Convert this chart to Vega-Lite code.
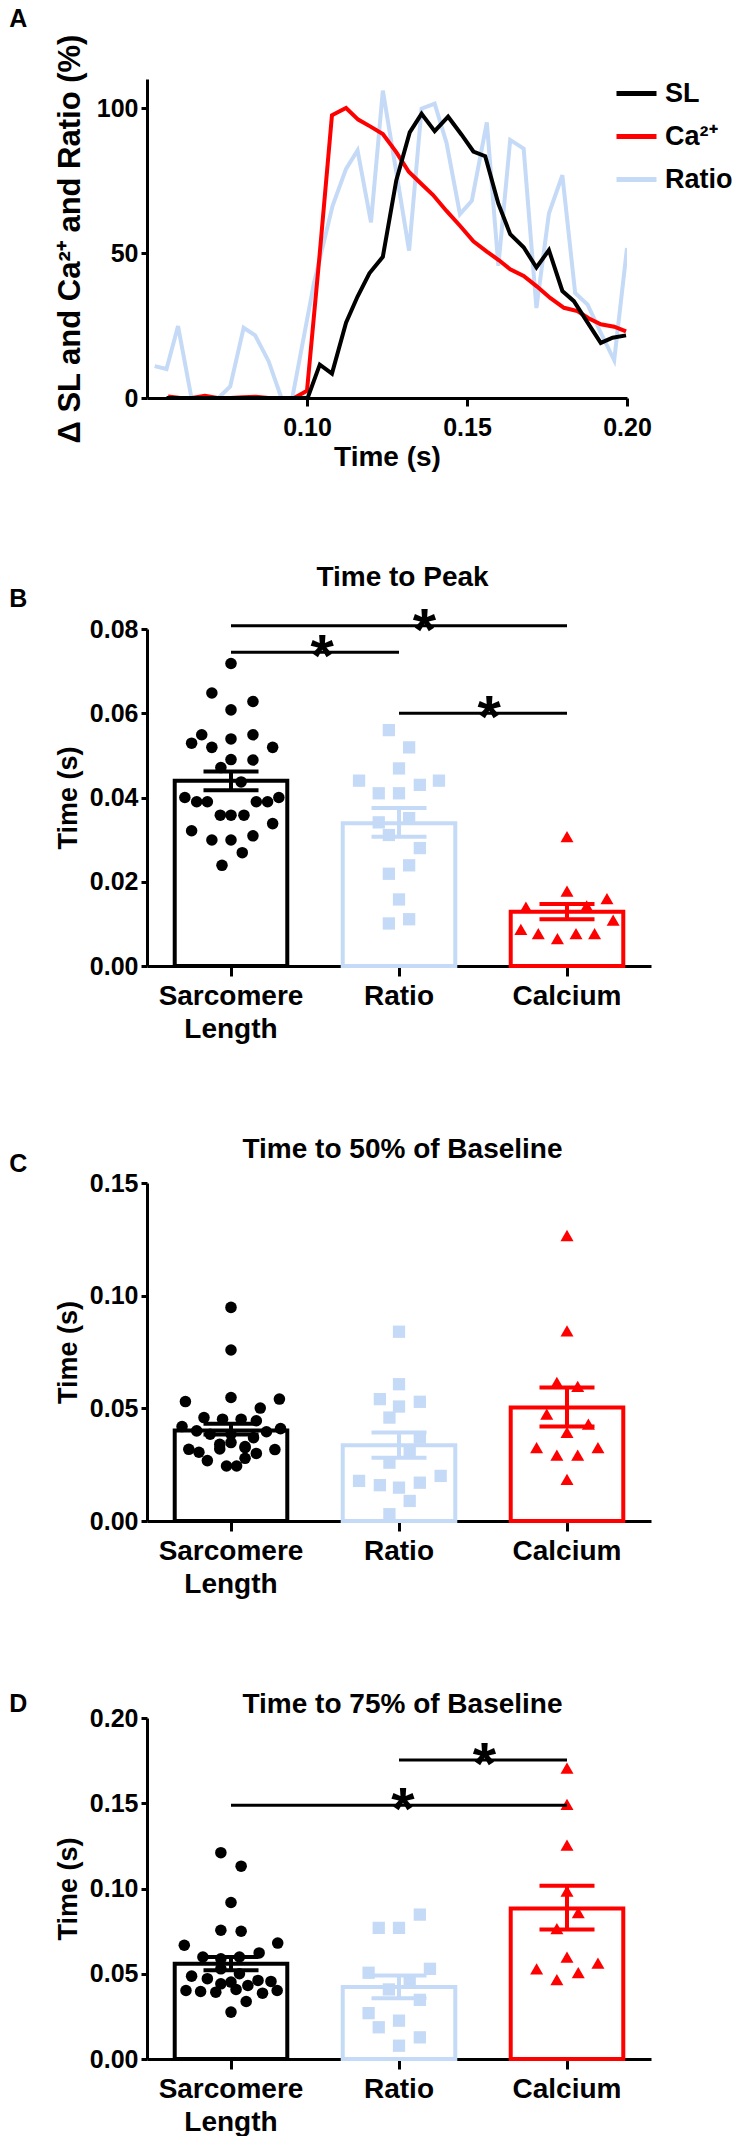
{
  "$schema": "https://vega.github.io/schema/vega-lite/v6.json",
  "padding": {"left": 9, "top": 6, "right": 0, "bottom": 0},
  "background": "white",
  "spacing": 92,
  "config": {
    "font": "Liberation Sans",
    "view": {"stroke": null},
    "axis": {"domainColor": "#000", "domainWidth": 3, "tickColor": "#000", "tickWidth": 3, "labelFont": "Liberation Sans", "labelFontWeight": "bold", "labelColor": "#000", "titleFont": "Liberation Sans", "titleFontWeight": "bold", "titleColor": "#000", "grid": false, "labelFontSize": 25, "titleFontSize": 27},
    "title": {"font": "Liberation Sans", "fontWeight": "bold", "fontSize": 25, "color": "#000", "anchor": "start", "frame": "bounds", "offset": 10}
  },
  "datasets": {
    "traces": [
      {"series": "Ratio", "t": 0.0524, "v": 11}, {"series": "Ratio", "t": 0.0561, "v": 10}, {"series": "Ratio", "t": 0.0597, "v": 24.8}, {"series": "Ratio", "t": 0.0639, "v": 0}, {"series": "Ratio", "t": 0.0681, "v": 0}, {"series": "Ratio", "t": 0.0723, "v": 0}, {"series": "Ratio", "t": 0.076, "v": 4}, {"series": "Ratio", "t": 0.0802, "v": 24.2}, {"series": "Ratio", "t": 0.0838, "v": 21.6}, {"series": "Ratio", "t": 0.088, "v": 12.7}, {"series": "Ratio", "t": 0.092, "v": 0}, {"series": "Ratio", "t": 0.0954, "v": 0}, {"series": "Ratio", "t": 0.1022, "v": 39.8}, {"series": "Ratio", "t": 0.108, "v": 66.3}, {"series": "Ratio", "t": 0.1122, "v": 79}, {"series": "Ratio", "t": 0.1158, "v": 85.4}, {"series": "Ratio", "t": 0.12, "v": 60.6}, {"series": "Ratio", "t": 0.1237, "v": 106}, {"series": "Ratio", "t": 0.1279, "v": 78}, {"series": "Ratio", "t": 0.1319, "v": 50.8}, {"series": "Ratio", "t": 0.1358, "v": 99.8}, {"series": "Ratio", "t": 0.1399, "v": 101.5}, {"series": "Ratio", "t": 0.1436, "v": 88}, {"series": "Ratio", "t": 0.1478, "v": 63.4}, {"series": "Ratio", "t": 0.1515, "v": 68}, {"series": "Ratio", "t": 0.1562, "v": 95}, {"series": "Ratio", "t": 0.1598, "v": 45.6}, {"series": "Ratio", "t": 0.1635, "v": 89}, {"series": "Ratio", "t": 0.1677, "v": 86}, {"series": "Ratio", "t": 0.1717, "v": 31}, {"series": "Ratio", "t": 0.1756, "v": 63.6}, {"series": "Ratio", "t": 0.1798, "v": 76.8}, {"series": "Ratio", "t": 0.1838, "v": 36.2}, {"series": "Ratio", "t": 0.1877, "v": 32.2}, {"series": "Ratio", "t": 0.1918, "v": 22.5}, {"series": "Ratio", "t": 0.196, "v": 13}, {"series": "Ratio", "t": 0.2, "v": 51.7},
      {"series": "Ca²⁺", "t": 0.0566, "v": 0.5}, {"series": "Ca²⁺", "t": 0.0604, "v": 0}, {"series": "Ca²⁺", "t": 0.0641, "v": 0}, {"series": "Ca²⁺", "t": 0.0681, "v": 0.8}, {"series": "Ca²⁺", "t": 0.072, "v": 0}, {"series": "Ca²⁺", "t": 0.076, "v": 0}, {"series": "Ca²⁺", "t": 0.08, "v": 0.3}, {"series": "Ca²⁺", "t": 0.084, "v": 0.4}, {"series": "Ca²⁺", "t": 0.088, "v": 0}, {"series": "Ca²⁺", "t": 0.092, "v": 0}, {"series": "Ca²⁺", "t": 0.096, "v": 0}, {"series": "Ca²⁺", "t": 0.1, "v": 2.5}, {"series": "Ca²⁺", "t": 0.104, "v": 50}, {"series": "Ca²⁺", "t": 0.1078, "v": 97.5}, {"series": "Ca²⁺", "t": 0.1122, "v": 100}, {"series": "Ca²⁺", "t": 0.116, "v": 96}, {"series": "Ca²⁺", "t": 0.12, "v": 93.5}, {"series": "Ca²⁺", "t": 0.1237, "v": 91}, {"series": "Ca²⁺", "t": 0.1279, "v": 84.8}, {"series": "Ca²⁺", "t": 0.1318, "v": 78}, {"series": "Ca²⁺", "t": 0.1352, "v": 74.4}, {"series": "Ca²⁺", "t": 0.1394, "v": 70}, {"series": "Ca²⁺", "t": 0.1436, "v": 64.5}, {"series": "Ca²⁺", "t": 0.1478, "v": 59.4}, {"series": "Ca²⁺", "t": 0.152, "v": 54}, {"series": "Ca²⁺", "t": 0.1562, "v": 50.5}, {"series": "Ca²⁺", "t": 0.16, "v": 47.5}, {"series": "Ca²⁺", "t": 0.1635, "v": 44.4}, {"series": "Ca²⁺", "t": 0.1677, "v": 42.1}, {"series": "Ca²⁺", "t": 0.1718, "v": 38.5}, {"series": "Ca²⁺", "t": 0.176, "v": 34.5}, {"series": "Ca²⁺", "t": 0.1803, "v": 31.1}, {"series": "Ca²⁺", "t": 0.1845, "v": 30}, {"series": "Ca²⁺", "t": 0.188, "v": 27.5}, {"series": "Ca²⁺", "t": 0.1918, "v": 25.4}, {"series": "Ca²⁺", "t": 0.196, "v": 24.6}, {"series": "Ca²⁺", "t": 0.1997, "v": 23},
      {"series": "SL", "t": 0.0561, "v": 0}, {"series": "SL", "t": 0.0641, "v": 0}, {"series": "SL", "t": 0.072, "v": 0}, {"series": "SL", "t": 0.08, "v": 0}, {"series": "SL", "t": 0.088, "v": 0}, {"series": "SL", "t": 0.096, "v": 0}, {"series": "SL", "t": 0.1002, "v": 0}, {"series": "SL", "t": 0.104, "v": 11.5}, {"series": "SL", "t": 0.1078, "v": 8.4}, {"series": "SL", "t": 0.1122, "v": 26}, {"series": "SL", "t": 0.1158, "v": 35}, {"series": "SL", "t": 0.1195, "v": 43}, {"series": "SL", "t": 0.1237, "v": 48.7}, {"series": "SL", "t": 0.1279, "v": 75}, {"series": "SL", "t": 0.1321, "v": 91.6}, {"series": "SL", "t": 0.1358, "v": 98}, {"series": "SL", "t": 0.1399, "v": 92}, {"series": "SL", "t": 0.1441, "v": 97}, {"series": "SL", "t": 0.1483, "v": 90.8}, {"series": "SL", "t": 0.152, "v": 85}, {"series": "SL", "t": 0.1557, "v": 83.4}, {"series": "SL", "t": 0.1598, "v": 67}, {"series": "SL", "t": 0.1635, "v": 56.5}, {"series": "SL", "t": 0.1677, "v": 52}, {"series": "SL", "t": 0.1717, "v": 45}, {"series": "SL", "t": 0.1756, "v": 51}, {"series": "SL", "t": 0.1798, "v": 36.9}, {"series": "SL", "t": 0.1834, "v": 33.4}, {"series": "SL", "t": 0.1877, "v": 26}, {"series": "SL", "t": 0.1918, "v": 19}, {"series": "SL", "t": 0.1955, "v": 20.8}, {"series": "SL", "t": 0.1997, "v": 21.6}
    ],
    "points": [
      {"panel": "B", "group": "Sarcomere Length", "value": 0.0718, "jit": 0}, {"panel": "B", "group": "Sarcomere Length", "value": 0.0648, "jit": -0.34}, {"panel": "B", "group": "Sarcomere Length", "value": 0.0628, "jit": 0.39}, {"panel": "B", "group": "Sarcomere Length", "value": 0.0608, "jit": 0}, {"panel": "B", "group": "Sarcomere Length", "value": 0.0549, "jit": -0.52}, {"panel": "B", "group": "Sarcomere Length", "value": 0.0549, "jit": 0.39}, {"panel": "B", "group": "Sarcomere Length", "value": 0.0529, "jit": -0.7}, {"panel": "B", "group": "Sarcomere Length", "value": 0.0519, "jit": -0.34}, {"panel": "B", "group": "Sarcomere Length", "value": 0.0539, "jit": 0}, {"panel": "B", "group": "Sarcomere Length", "value": 0.0519, "jit": 0.74}, {"panel": "B", "group": "Sarcomere Length", "value": 0.049, "jit": 0}, {"panel": "B", "group": "Sarcomere Length", "value": 0.0489, "jit": 0.39}, {"panel": "B", "group": "Sarcomere Length", "value": 0.0471, "jit": -0.18}, {"panel": "B", "group": "Sarcomere Length", "value": 0.0437, "jit": 0.18}, {"panel": "B", "group": "Sarcomere Length", "value": 0.04, "jit": -0.82}, {"panel": "B", "group": "Sarcomere Length", "value": 0.039, "jit": -0.61}, {"panel": "B", "group": "Sarcomere Length", "value": 0.039, "jit": -0.42}, {"panel": "B", "group": "Sarcomere Length", "value": 0.039, "jit": 0.45}, {"panel": "B", "group": "Sarcomere Length", "value": 0.039, "jit": 0.65}, {"panel": "B", "group": "Sarcomere Length", "value": 0.04, "jit": 0.85}, {"panel": "B", "group": "Sarcomere Length", "value": 0.0358, "jit": -0.19}, {"panel": "B", "group": "Sarcomere Length", "value": 0.0358, "jit": 0}, {"panel": "B", "group": "Sarcomere Length", "value": 0.0358, "jit": 0.23}, {"panel": "B", "group": "Sarcomere Length", "value": 0.0321, "jit": -0.7}, {"panel": "B", "group": "Sarcomere Length", "value": 0.0338, "jit": 0.74}, {"panel": "B", "group": "Sarcomere Length", "value": 0.0299, "jit": -0.34}, {"panel": "B", "group": "Sarcomere Length", "value": 0.0299, "jit": 0}, {"panel": "B", "group": "Sarcomere Length", "value": 0.0309, "jit": 0.39}, {"panel": "B", "group": "Sarcomere Length", "value": 0.0269, "jit": 0.2}, {"panel": "B", "group": "Sarcomere Length", "value": 0.0239, "jit": -0.16},
      {"panel": "B", "group": "Ratio", "value": 0.056, "jit": -0.18}, {"panel": "B", "group": "Ratio", "value": 0.0519, "jit": 0.18}, {"panel": "B", "group": "Ratio", "value": 0.0469, "jit": 0}, {"panel": "B", "group": "Ratio", "value": 0.044, "jit": -0.71}, {"panel": "B", "group": "Ratio", "value": 0.044, "jit": 0.71}, {"panel": "B", "group": "Ratio", "value": 0.041, "jit": -0.36}, {"panel": "B", "group": "Ratio", "value": 0.041, "jit": 0}, {"panel": "B", "group": "Ratio", "value": 0.043, "jit": 0.37}, {"panel": "B", "group": "Ratio", "value": 0.0341, "jit": -0.36}, {"panel": "B", "group": "Ratio", "value": 0.0351, "jit": 0.18}, {"panel": "B", "group": "Ratio", "value": 0.0311, "jit": -0.18}, {"panel": "B", "group": "Ratio", "value": 0.028, "jit": 0.37}, {"panel": "B", "group": "Ratio", "value": 0.0239, "jit": 0.18}, {"panel": "B", "group": "Ratio", "value": 0.0219, "jit": -0.18}, {"panel": "B", "group": "Ratio", "value": 0.0158, "jit": 0}, {"panel": "B", "group": "Ratio", "value": 0.0111, "jit": 0.18}, {"panel": "B", "group": "Ratio", "value": 0.0101, "jit": -0.18},
      {"panel": "B", "group": "Calcium", "value": 0.0307, "jit": 0}, {"panel": "B", "group": "Calcium", "value": 0.0178, "jit": 0}, {"panel": "B", "group": "Calcium", "value": 0.016, "jit": 0.71}, {"panel": "B", "group": "Calcium", "value": 0.014, "jit": -0.73}, {"panel": "B", "group": "Calcium", "value": 0.0143, "jit": 0.35}, {"panel": "B", "group": "Calcium", "value": 0.0109, "jit": 0.82}, {"panel": "B", "group": "Calcium", "value": 0.0087, "jit": -0.82}, {"panel": "B", "group": "Calcium", "value": 0.0077, "jit": -0.51}, {"panel": "B", "group": "Calcium", "value": 0.0065, "jit": -0.17}, {"panel": "B", "group": "Calcium", "value": 0.0077, "jit": 0.16}, {"panel": "B", "group": "Calcium", "value": 0.0077, "jit": 0.49},
      {"panel": "C", "group": "Sarcomere Length", "value": 0.0948, "jit": 0}, {"panel": "C", "group": "Sarcomere Length", "value": 0.0759, "jit": 0}, {"panel": "C", "group": "Sarcomere Length", "value": 0.0548, "jit": 0}, {"panel": "C", "group": "Sarcomere Length", "value": 0.053, "jit": -0.81}, {"panel": "C", "group": "Sarcomere Length", "value": 0.0541, "jit": 0.86}, {"panel": "C", "group": "Sarcomere Length", "value": 0.0501, "jit": 0.52}, {"panel": "C", "group": "Sarcomere Length", "value": 0.0459, "jit": -0.48}, {"panel": "C", "group": "Sarcomere Length", "value": 0.0452, "jit": -0.15}, {"panel": "C", "group": "Sarcomere Length", "value": 0.0452, "jit": 0.18}, {"panel": "C", "group": "Sarcomere Length", "value": 0.0445, "jit": 0.45}, {"panel": "C", "group": "Sarcomere Length", "value": 0.0419, "jit": -0.87}, {"panel": "C", "group": "Sarcomere Length", "value": 0.04, "jit": -0.61}, {"panel": "C", "group": "Sarcomere Length", "value": 0.0385, "jit": -0.37}, {"panel": "C", "group": "Sarcomere Length", "value": 0.0396, "jit": 0.63}, {"panel": "C", "group": "Sarcomere Length", "value": 0.041, "jit": 0.88}, {"panel": "C", "group": "Sarcomere Length", "value": 0.037, "jit": 0.4}, {"panel": "C", "group": "Sarcomere Length", "value": 0.0385, "jit": 0}, {"panel": "C", "group": "Sarcomere Length", "value": 0.0348, "jit": 0}, {"panel": "C", "group": "Sarcomere Length", "value": 0.034, "jit": -0.2}, {"panel": "C", "group": "Sarcomere Length", "value": 0.033, "jit": 0.25}, {"panel": "C", "group": "Sarcomere Length", "value": 0.0318, "jit": -0.75}, {"panel": "C", "group": "Sarcomere Length", "value": 0.0305, "jit": -0.57}, {"panel": "C", "group": "Sarcomere Length", "value": 0.032, "jit": -0.2}, {"panel": "C", "group": "Sarcomere Length", "value": 0.0325, "jit": 0.25}, {"panel": "C", "group": "Sarcomere Length", "value": 0.03, "jit": 0.45}, {"panel": "C", "group": "Sarcomere Length", "value": 0.0317, "jit": 0.78}, {"panel": "C", "group": "Sarcomere Length", "value": 0.0268, "jit": -0.42}, {"panel": "C", "group": "Sarcomere Length", "value": 0.0278, "jit": 0.25}, {"panel": "C", "group": "Sarcomere Length", "value": 0.0244, "jit": -0.08}, {"panel": "C", "group": "Sarcomere Length", "value": 0.0244, "jit": 0.1},
      {"panel": "C", "group": "Ratio", "value": 0.084, "jit": 0}, {"panel": "C", "group": "Ratio", "value": 0.0607, "jit": 0}, {"panel": "C", "group": "Ratio", "value": 0.0541, "jit": -0.34}, {"panel": "C", "group": "Ratio", "value": 0.0529, "jit": 0.37}, {"panel": "C", "group": "Ratio", "value": 0.0508, "jit": 0}, {"panel": "C", "group": "Ratio", "value": 0.0459, "jit": -0.17}, {"panel": "C", "group": "Ratio", "value": 0.037, "jit": 0.37}, {"panel": "C", "group": "Ratio", "value": 0.0311, "jit": 0.19}, {"panel": "C", "group": "Ratio", "value": 0.0259, "jit": -0.17}, {"panel": "C", "group": "Ratio", "value": 0.0178, "jit": -0.71}, {"panel": "C", "group": "Ratio", "value": 0.0159, "jit": -0.34}, {"panel": "C", "group": "Ratio", "value": 0.0148, "jit": 0}, {"panel": "C", "group": "Ratio", "value": 0.017, "jit": 0.37}, {"panel": "C", "group": "Ratio", "value": 0.02, "jit": 0.74}, {"panel": "C", "group": "Ratio", "value": 0.0089, "jit": 0.19}, {"panel": "C", "group": "Ratio", "value": 0.003, "jit": -0.17},
      {"panel": "C", "group": "Calcium", "value": 0.1267, "jit": 0}, {"panel": "C", "group": "Calcium", "value": 0.0844, "jit": 0}, {"panel": "C", "group": "Calcium", "value": 0.0615, "jit": -0.18}, {"panel": "C", "group": "Calcium", "value": 0.0597, "jit": 0.19}, {"panel": "C", "group": "Calcium", "value": 0.0474, "jit": -0.36}, {"panel": "C", "group": "Calcium", "value": 0.043, "jit": 0.38}, {"panel": "C", "group": "Calcium", "value": 0.0393, "jit": 0}, {"panel": "C", "group": "Calcium", "value": 0.0326, "jit": -0.54}, {"panel": "C", "group": "Calcium", "value": 0.0326, "jit": 0.55}, {"panel": "C", "group": "Calcium", "value": 0.0292, "jit": -0.18}, {"panel": "C", "group": "Calcium", "value": 0.0292, "jit": 0.19}, {"panel": "C", "group": "Calcium", "value": 0.0185, "jit": 0},
      {"panel": "D", "group": "Sarcomere Length", "value": 0.121, "jit": -0.18}, {"panel": "D", "group": "Sarcomere Length", "value": 0.1131, "jit": 0.18}, {"panel": "D", "group": "Sarcomere Length", "value": 0.0918, "jit": 0}, {"panel": "D", "group": "Sarcomere Length", "value": 0.0755, "jit": -0.18}, {"panel": "D", "group": "Sarcomere Length", "value": 0.0749, "jit": 0.18}, {"panel": "D", "group": "Sarcomere Length", "value": 0.0667, "jit": -0.83}, {"panel": "D", "group": "Sarcomere Length", "value": 0.068, "jit": 0.83}, {"panel": "D", "group": "Sarcomere Length", "value": 0.0598, "jit": -0.5}, {"panel": "D", "group": "Sarcomere Length", "value": 0.0588, "jit": -0.18}, {"panel": "D", "group": "Sarcomere Length", "value": 0.0598, "jit": 0.15}, {"panel": "D", "group": "Sarcomere Length", "value": 0.0622, "jit": 0.5}, {"panel": "D", "group": "Sarcomere Length", "value": 0.0486, "jit": -0.7}, {"panel": "D", "group": "Sarcomere Length", "value": 0.0471, "jit": -0.42}, {"panel": "D", "group": "Sarcomere Length", "value": 0.0529, "jit": -0.18}, {"panel": "D", "group": "Sarcomere Length", "value": 0.05, "jit": 0.15}, {"panel": "D", "group": "Sarcomere Length", "value": 0.0461, "jit": 0.48}, {"panel": "D", "group": "Sarcomere Length", "value": 0.0455, "jit": 0.71}, {"panel": "D", "group": "Sarcomere Length", "value": 0.0402, "jit": -0.8}, {"panel": "D", "group": "Sarcomere Length", "value": 0.0396, "jit": -0.54}, {"panel": "D", "group": "Sarcomere Length", "value": 0.0392, "jit": -0.27}, {"panel": "D", "group": "Sarcomere Length", "value": 0.0441, "jit": -0.18}, {"panel": "D", "group": "Sarcomere Length", "value": 0.0451, "jit": 0}, {"panel": "D", "group": "Sarcomere Length", "value": 0.0408, "jit": 0.09}, {"panel": "D", "group": "Sarcomere Length", "value": 0.0431, "jit": 0.3}, {"panel": "D", "group": "Sarcomere Length", "value": 0.0386, "jit": 0.56}, {"panel": "D", "group": "Sarcomere Length", "value": 0.0402, "jit": 0.82}, {"panel": "D", "group": "Sarcomere Length", "value": 0.0337, "jit": 0.27}, {"panel": "D", "group": "Sarcomere Length", "value": 0.0275, "jit": 0},
      {"panel": "D", "group": "Ratio", "value": 0.0847, "jit": 0.37}, {"panel": "D", "group": "Ratio", "value": 0.0769, "jit": -0.36}, {"panel": "D", "group": "Ratio", "value": 0.0769, "jit": 0}, {"panel": "D", "group": "Ratio", "value": 0.0529, "jit": 0.55}, {"panel": "D", "group": "Ratio", "value": 0.0506, "jit": -0.54}, {"panel": "D", "group": "Ratio", "value": 0.0451, "jit": 0.19}, {"panel": "D", "group": "Ratio", "value": 0.0408, "jit": -0.18}, {"panel": "D", "group": "Ratio", "value": 0.0347, "jit": 0.37}, {"panel": "D", "group": "Ratio", "value": 0.0269, "jit": -0.54}, {"panel": "D", "group": "Ratio", "value": 0.0225, "jit": 0}, {"panel": "D", "group": "Ratio", "value": 0.0186, "jit": -0.36}, {"panel": "D", "group": "Ratio", "value": 0.0127, "jit": 0.37}, {"panel": "D", "group": "Ratio", "value": 0.0078, "jit": 0},
      {"panel": "D", "group": "Calcium", "value": 0.1706, "jit": 0}, {"panel": "D", "group": "Calcium", "value": 0.1494, "jit": 0}, {"panel": "D", "group": "Calcium", "value": 0.1255, "jit": 0}, {"panel": "D", "group": "Calcium", "value": 0.0984, "jit": 0}, {"panel": "D", "group": "Calcium", "value": 0.0859, "jit": 0.2}, {"panel": "D", "group": "Calcium", "value": 0.0765, "jit": -0.18}, {"panel": "D", "group": "Calcium", "value": 0.0598, "jit": 0}, {"panel": "D", "group": "Calcium", "value": 0.0529, "jit": -0.54}, {"panel": "D", "group": "Calcium", "value": 0.0563, "jit": 0.55}, {"panel": "D", "group": "Calcium", "value": 0.0506, "jit": 0.2}, {"panel": "D", "group": "Calcium", "value": 0.0465, "jit": -0.18}
    ],
    "summary": [
      {"panel": "B", "group": "Sarcomere Length", "mean": 0.044, "lo": 0.0417, "hi": 0.0462},
      {"panel": "B", "group": "Ratio", "mean": 0.0339, "lo": 0.0307, "hi": 0.0375},
      {"panel": "B", "group": "Calcium", "mean": 0.0129, "lo": 0.0111, "hi": 0.0147},
      {"panel": "C", "group": "Sarcomere Length", "mean": 0.0402, "lo": 0.0384, "hi": 0.0432},
      {"panel": "C", "group": "Ratio", "mean": 0.0336, "lo": 0.0281, "hi": 0.0393},
      {"panel": "C", "group": "Calcium", "mean": 0.0504, "lo": 0.0419, "hi": 0.0593},
      {"panel": "D", "group": "Sarcomere Length", "mean": 0.0559, "lo": 0.052, "hi": 0.0598},
      {"panel": "D", "group": "Ratio", "mean": 0.0422, "lo": 0.0357, "hi": 0.049},
      {"panel": "D", "group": "Calcium", "mean": 0.0882, "lo": 0.0759, "hi": 0.1016}
    ],
    "sig": [
      {"panel": "B", "from": "Sarcomere Length", "to": "Calcium", "y": 0.0808, "star_group": "Ratio", "star_jit": 0.45},
      {"panel": "B", "from": "Sarcomere Length", "to": "Ratio", "y": 0.0745, "star_group": "Sarcomere Length", "star_jit": 1.62},
      {"panel": "B", "from": "Ratio", "to": "Calcium", "y": 0.06, "star_group": "Ratio", "star_jit": 1.6},
      {"panel": "D", "from": "Ratio", "to": "Calcium", "y": 0.1753, "star_group": "Ratio", "star_jit": 1.52},
      {"panel": "D", "from": "Sarcomere Length", "to": "Calcium", "y": 0.1488, "star_group": "Ratio", "star_jit": 0.07}
    ]
  },
  "resolve": {"scale": {"color": "independent", "shape": "independent", "size": "independent"}},
  "vconcat": [
    {
      "title": {"text": "A", "dx": -45, "dy": 8},
      "width": 480,
      "height": 319,
      "data": {"name": "traces"},
      "mark": {"type": "line", "strokeWidth": 4, "clip": true},
      "encoding": {
        "x": {"field": "t", "type": "quantitative", "scale": {"domain": [0.05, 0.2], "nice": false, "zero": false}, "axis": {"values": [0.1, 0.15, 0.2], "format": ".2f", "title": "Time (s)", "titleFontSize": 28, "labelFontSize": 25, "tickSize": 8, "labelPadding": 9, "titlePadding": 3, "labelFlush": false}},
        "y": {"field": "v", "type": "quantitative", "scale": {"domain": [0, 110], "nice": false}, "axis": {"values": [0, 50, 100], "format": "d", "title": "Δ SL and Ca²⁺ and Ratio (%)", "titleFontSize": 31, "labelFontSize": 25, "tickSize": 6, "labelPadding": 3, "titlePadding": 10}},
        "color": {"field": "series", "type": "nominal", "scale": {"domain": ["SL", "Ca²⁺", "Ratio"], "range": ["#000000", "#ff0000", "#c5daf6"]}, "legend": {"orient": "none", "legendX": 467, "legendY": -8, "title": null, "symbolType": "stroke", "symbolStrokeWidth": 5, "symbolSize": 1600, "labelFontSize": 27, "labelFont": "Liberation Sans", "labelFontWeight": "bold", "labelColor": "#000", "labelOffset": 6, "rowPadding": 7, "padding": 0}}
      }
    },
    {
      "title": {"text": "B", "dx": -45, "dy": 59},
      "width": 504,
      "height": 337,
      "resolve": {"scale": {"xOffset": "independent"}},
      "layer": [
        {
          "data": {"name": "summary"}, "transform": [{"filter": "datum.panel === 'B'"}],
          "mark": {"type": "bar", "filled": false, "strokeWidth": 4},
          "encoding": {
            "x": {"field": "group", "type": "nominal", "title": "Time to Peak", "scale": {"domain": ["Sarcomere Length", "Ratio", "Calcium"], "paddingInner": 0.33, "paddingOuter": 0.165}, "axis": {"titleFontSize": 28, "titleX": 255, "titleY": -381, "titleBaseline": "alphabetic", "titleAlign": "center", "labelFontSize": 28, "labelLineHeight": 33, "labelExpr": "split(datum.label, ' ')", "labelAngle": 0, "tickSize": 10, "labelPadding": 6}},
            "y": {"field": "mean", "type": "quantitative", "title": "Time (s)", "scale": {"domain": [0, 0.08], "nice": false}, "axis": {"values": [0, 0.02, 0.04, 0.06, 0.08], "format": ".2f", "tickSize": 6, "labelPadding": 3, "titlePadding": 7}},
            "color": {"field": "group", "type": "nominal", "scale": {"domain": ["Sarcomere Length", "Ratio", "Calcium"], "range": ["#000000", "#c5daf6", "#ff0000"]}, "legend": null}
          }
        },
        {
          "data": {"name": "points"}, "transform": [{"filter": "datum.panel === 'B'"}],
          "mark": {"type": "point", "filled": true, "opacity": 1},
          "encoding": {
            "x": {"field": "group", "type": "nominal", "title": "Time to Peak"},
            "xOffset": {"field": "jit", "type": "quantitative", "scale": {"domain": [-1, 1], "nice": false, "zero": false}},
            "y": {"field": "value", "type": "quantitative", "title": "Time (s)", "scale": {"domain": [0, 0.08], "nice": false}},
            "color": {"field": "group", "type": "nominal", "scale": {"domain": ["Sarcomere Length", "Ratio", "Calcium"], "range": ["#000000", "#c5daf6", "#ff0000"]}, "legend": null},
            "shape": {"field": "group", "type": "nominal", "scale": {"domain": ["Sarcomere Length", "Ratio", "Calcium"], "range": ["circle", "square", "triangle-up"]}, "legend": null},
            "size": {"field": "group", "type": "nominal", "scale": {"domain": ["Sarcomere Length", "Ratio", "Calcium"], "range": [133, 169, 169]}, "legend": null}
          }
        },
        {
          "data": {"name": "summary"}, "transform": [{"filter": "datum.panel === 'B'"}],
          "mark": {"type": "rule", "strokeWidth": 4},
          "encoding": {
            "x": {"field": "group", "type": "nominal", "title": "Time to Peak"},
            "y": {"field": "lo", "type": "quantitative", "title": "Time (s)", "scale": {"domain": [0, 0.08], "nice": false}},
            "y2": {"field": "hi"},
            "color": {"field": "group", "type": "nominal", "scale": {"domain": ["Sarcomere Length", "Ratio", "Calcium"], "range": ["#000000", "#c5daf6", "#ff0000"]}, "legend": null}
          }
        },
        {
          "data": {"name": "summary"}, "transform": [{"filter": "datum.panel === 'B'"}],
          "mark": {"type": "tick", "size": 55, "thickness": 4, "opacity": 1},
          "encoding": {
            "x": {"field": "group", "type": "nominal", "title": "Time to Peak"},
            "y": {"field": "lo", "type": "quantitative", "title": "Time (s)", "scale": {"domain": [0, 0.08], "nice": false}},
            "color": {"field": "group", "type": "nominal", "scale": {"domain": ["Sarcomere Length", "Ratio", "Calcium"], "range": ["#000000", "#c5daf6", "#ff0000"]}, "legend": null}
          }
        },
        {
          "data": {"name": "summary"}, "transform": [{"filter": "datum.panel === 'B'"}],
          "mark": {"type": "tick", "size": 55, "thickness": 4, "opacity": 1},
          "encoding": {
            "x": {"field": "group", "type": "nominal", "title": "Time to Peak"},
            "y": {"field": "hi", "type": "quantitative", "title": "Time (s)", "scale": {"domain": [0, 0.08], "nice": false}},
            "color": {"field": "group", "type": "nominal", "scale": {"domain": ["Sarcomere Length", "Ratio", "Calcium"], "range": ["#000000", "#c5daf6", "#ff0000"]}, "legend": null}
          }
        },
        {
          "data": {"name": "sig"}, "transform": [{"filter": "datum.panel === 'B'"}],
          "mark": {"type": "rule", "strokeWidth": 3, "color": "#000"},
          "encoding": {
            "x": {"field": "from", "type": "nominal", "title": "Time to Peak"},
            "x2": {"field": "to"},
            "y": {"field": "y", "type": "quantitative", "title": "Time (s)", "scale": {"domain": [0, 0.08], "nice": false}}
          }
        },
        {
          "data": {"name": "sig"}, "transform": [{"filter": "datum.panel === 'B'"}],
          "mark": {"type": "text", "text": "*", "fontSize": 60, "fontWeight": "bold", "font": "Liberation Sans", "baseline": "alphabetic", "dy": 24, "color": "#000"},
          "encoding": {
            "x": {"field": "star_group", "type": "nominal", "title": "Time to Peak"},
            "xOffset": {"field": "star_jit", "type": "quantitative", "scale": {"domain": [-1, 1], "nice": false, "zero": false}},
            "y": {"field": "y", "type": "quantitative", "title": "Time (s)", "scale": {"domain": [0, 0.08], "nice": false}}
          }
        }
      ]
    },
    {
      "title": {"text": "C", "dx": -45, "dy": 52},
      "width": 504,
      "height": 338,
      "resolve": {"scale": {"xOffset": "independent"}},
      "layer": [
        {
          "data": {"name": "summary"}, "transform": [{"filter": "datum.panel === 'C'"}],
          "mark": {"type": "bar", "filled": false, "strokeWidth": 4},
          "encoding": {
            "x": {"field": "group", "type": "nominal", "title": "Time to 50% of Baseline", "scale": {"domain": ["Sarcomere Length", "Ratio", "Calcium"], "paddingInner": 0.33, "paddingOuter": 0.165}, "axis": {"titleFontSize": 28, "titleX": 255, "titleY": -364, "titleBaseline": "alphabetic", "titleAlign": "center", "labelFontSize": 28, "labelLineHeight": 33, "labelExpr": "split(datum.label, ' ')", "labelAngle": 0, "tickSize": 10, "labelPadding": 6}},
            "y": {"field": "mean", "type": "quantitative", "title": "Time (s)", "scale": {"domain": [0, 0.15], "nice": false}, "axis": {"values": [0, 0.05, 0.1, 0.15], "format": ".2f", "tickSize": 6, "labelPadding": 3, "titlePadding": 7}},
            "color": {"field": "group", "type": "nominal", "scale": {"domain": ["Sarcomere Length", "Ratio", "Calcium"], "range": ["#000000", "#c5daf6", "#ff0000"]}, "legend": null}
          }
        },
        {
          "data": {"name": "points"}, "transform": [{"filter": "datum.panel === 'C'"}],
          "mark": {"type": "point", "filled": true, "opacity": 1},
          "encoding": {
            "x": {"field": "group", "type": "nominal", "title": "Time to 50% of Baseline"},
            "xOffset": {"field": "jit", "type": "quantitative", "scale": {"domain": [-1, 1], "nice": false, "zero": false}},
            "y": {"field": "value", "type": "quantitative", "title": "Time (s)", "scale": {"domain": [0, 0.15], "nice": false}},
            "color": {"field": "group", "type": "nominal", "scale": {"domain": ["Sarcomere Length", "Ratio", "Calcium"], "range": ["#000000", "#c5daf6", "#ff0000"]}, "legend": null},
            "shape": {"field": "group", "type": "nominal", "scale": {"domain": ["Sarcomere Length", "Ratio", "Calcium"], "range": ["circle", "square", "triangle-up"]}, "legend": null},
            "size": {"field": "group", "type": "nominal", "scale": {"domain": ["Sarcomere Length", "Ratio", "Calcium"], "range": [133, 169, 169]}, "legend": null}
          }
        },
        {
          "data": {"name": "summary"}, "transform": [{"filter": "datum.panel === 'C'"}],
          "mark": {"type": "rule", "strokeWidth": 4},
          "encoding": {
            "x": {"field": "group", "type": "nominal", "title": "Time to 50% of Baseline"},
            "y": {"field": "lo", "type": "quantitative", "title": "Time (s)", "scale": {"domain": [0, 0.15], "nice": false}},
            "y2": {"field": "hi"},
            "color": {"field": "group", "type": "nominal", "scale": {"domain": ["Sarcomere Length", "Ratio", "Calcium"], "range": ["#000000", "#c5daf6", "#ff0000"]}, "legend": null}
          }
        },
        {
          "data": {"name": "summary"}, "transform": [{"filter": "datum.panel === 'C'"}],
          "mark": {"type": "tick", "size": 55, "thickness": 4, "opacity": 1},
          "encoding": {
            "x": {"field": "group", "type": "nominal", "title": "Time to 50% of Baseline"},
            "y": {"field": "lo", "type": "quantitative", "title": "Time (s)", "scale": {"domain": [0, 0.15], "nice": false}},
            "color": {"field": "group", "type": "nominal", "scale": {"domain": ["Sarcomere Length", "Ratio", "Calcium"], "range": ["#000000", "#c5daf6", "#ff0000"]}, "legend": null}
          }
        },
        {
          "data": {"name": "summary"}, "transform": [{"filter": "datum.panel === 'C'"}],
          "mark": {"type": "tick", "size": 55, "thickness": 4, "opacity": 1},
          "encoding": {
            "x": {"field": "group", "type": "nominal", "title": "Time to 50% of Baseline"},
            "y": {"field": "hi", "type": "quantitative", "title": "Time (s)", "scale": {"domain": [0, 0.15], "nice": false}},
            "color": {"field": "group", "type": "nominal", "scale": {"domain": ["Sarcomere Length", "Ratio", "Calcium"], "range": ["#000000", "#c5daf6", "#ff0000"]}, "legend": null}
          }
        }
      ]
    },
    {
      "title": {"text": "D", "dx": -45, "dy": 37},
      "width": 504,
      "height": 341,
      "resolve": {"scale": {"xOffset": "independent"}},
      "layer": [
        {
          "data": {"name": "summary"}, "transform": [{"filter": "datum.panel === 'D'"}],
          "mark": {"type": "bar", "filled": false, "strokeWidth": 4},
          "encoding": {
            "x": {"field": "group", "type": "nominal", "title": "Time to 75% of Baseline", "scale": {"domain": ["Sarcomere Length", "Ratio", "Calcium"], "paddingInner": 0.33, "paddingOuter": 0.165}, "axis": {"titleFontSize": 28, "titleX": 255, "titleY": -347, "titleBaseline": "alphabetic", "titleAlign": "center", "labelFontSize": 28, "labelLineHeight": 33, "labelExpr": "split(datum.label, ' ')", "labelAngle": 0, "tickSize": 10, "labelPadding": 6}},
            "y": {"field": "mean", "type": "quantitative", "title": "Time (s)", "scale": {"domain": [0, 0.2], "nice": false}, "axis": {"values": [0, 0.05, 0.1, 0.15, 0.2], "format": ".2f", "tickSize": 6, "labelPadding": 3, "titlePadding": 7}},
            "color": {"field": "group", "type": "nominal", "scale": {"domain": ["Sarcomere Length", "Ratio", "Calcium"], "range": ["#000000", "#c5daf6", "#ff0000"]}, "legend": null}
          }
        },
        {
          "data": {"name": "points"}, "transform": [{"filter": "datum.panel === 'D'"}],
          "mark": {"type": "point", "filled": true, "opacity": 1},
          "encoding": {
            "x": {"field": "group", "type": "nominal", "title": "Time to 75% of Baseline"},
            "xOffset": {"field": "jit", "type": "quantitative", "scale": {"domain": [-1, 1], "nice": false, "zero": false}},
            "y": {"field": "value", "type": "quantitative", "title": "Time (s)", "scale": {"domain": [0, 0.2], "nice": false}},
            "color": {"field": "group", "type": "nominal", "scale": {"domain": ["Sarcomere Length", "Ratio", "Calcium"], "range": ["#000000", "#c5daf6", "#ff0000"]}, "legend": null},
            "shape": {"field": "group", "type": "nominal", "scale": {"domain": ["Sarcomere Length", "Ratio", "Calcium"], "range": ["circle", "square", "triangle-up"]}, "legend": null},
            "size": {"field": "group", "type": "nominal", "scale": {"domain": ["Sarcomere Length", "Ratio", "Calcium"], "range": [133, 169, 169]}, "legend": null}
          }
        },
        {
          "data": {"name": "summary"}, "transform": [{"filter": "datum.panel === 'D'"}],
          "mark": {"type": "rule", "strokeWidth": 4},
          "encoding": {
            "x": {"field": "group", "type": "nominal", "title": "Time to 75% of Baseline"},
            "y": {"field": "lo", "type": "quantitative", "title": "Time (s)", "scale": {"domain": [0, 0.2], "nice": false}},
            "y2": {"field": "hi"},
            "color": {"field": "group", "type": "nominal", "scale": {"domain": ["Sarcomere Length", "Ratio", "Calcium"], "range": ["#000000", "#c5daf6", "#ff0000"]}, "legend": null}
          }
        },
        {
          "data": {"name": "summary"}, "transform": [{"filter": "datum.panel === 'D'"}],
          "mark": {"type": "tick", "size": 55, "thickness": 4, "opacity": 1},
          "encoding": {
            "x": {"field": "group", "type": "nominal", "title": "Time to 75% of Baseline"},
            "y": {"field": "lo", "type": "quantitative", "title": "Time (s)", "scale": {"domain": [0, 0.2], "nice": false}},
            "color": {"field": "group", "type": "nominal", "scale": {"domain": ["Sarcomere Length", "Ratio", "Calcium"], "range": ["#000000", "#c5daf6", "#ff0000"]}, "legend": null}
          }
        },
        {
          "data": {"name": "summary"}, "transform": [{"filter": "datum.panel === 'D'"}],
          "mark": {"type": "tick", "size": 55, "thickness": 4, "opacity": 1},
          "encoding": {
            "x": {"field": "group", "type": "nominal", "title": "Time to 75% of Baseline"},
            "y": {"field": "hi", "type": "quantitative", "title": "Time (s)", "scale": {"domain": [0, 0.2], "nice": false}},
            "color": {"field": "group", "type": "nominal", "scale": {"domain": ["Sarcomere Length", "Ratio", "Calcium"], "range": ["#000000", "#c5daf6", "#ff0000"]}, "legend": null}
          }
        },
        {
          "data": {"name": "sig"}, "transform": [{"filter": "datum.panel === 'D'"}],
          "mark": {"type": "rule", "strokeWidth": 3, "color": "#000"},
          "encoding": {
            "x": {"field": "from", "type": "nominal", "title": "Time to 75% of Baseline"},
            "x2": {"field": "to"},
            "y": {"field": "y", "type": "quantitative", "title": "Time (s)", "scale": {"domain": [0, 0.2], "nice": false}}
          }
        },
        {
          "data": {"name": "sig"}, "transform": [{"filter": "datum.panel === 'D'"}],
          "mark": {"type": "text", "text": "*", "fontSize": 60, "fontWeight": "bold", "font": "Liberation Sans", "baseline": "alphabetic", "dy": 24, "color": "#000"},
          "encoding": {
            "x": {"field": "star_group", "type": "nominal", "title": "Time to 75% of Baseline"},
            "xOffset": {"field": "star_jit", "type": "quantitative", "scale": {"domain": [-1, 1], "nice": false, "zero": false}},
            "y": {"field": "y", "type": "quantitative", "title": "Time (s)", "scale": {"domain": [0, 0.2], "nice": false}}
          }
        }
      ]
    }
  ]
}
